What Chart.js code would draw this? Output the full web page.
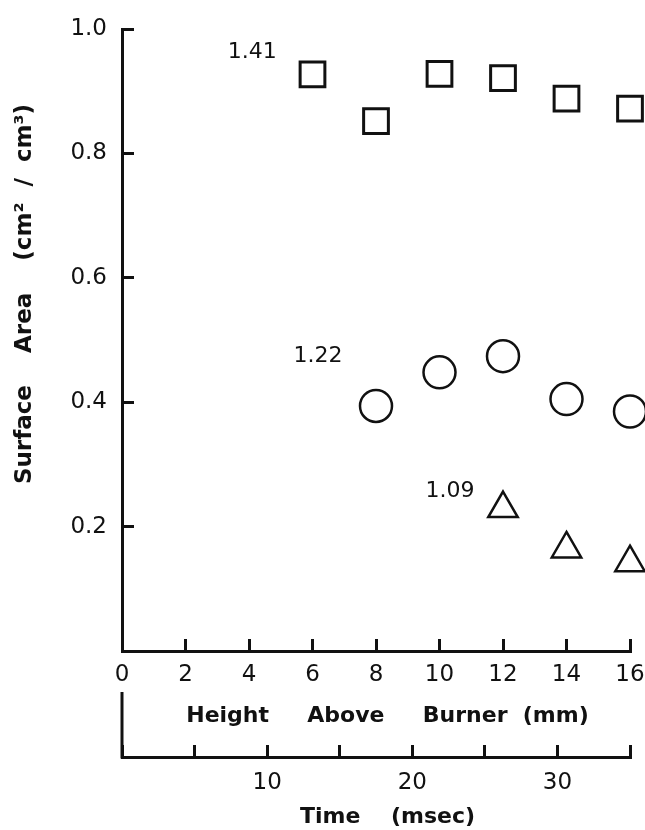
<!DOCTYPE html>
<html>
<head>
<meta charset="utf-8">
<script src="https://cdn.jsdelivr.net/npm/chart.js@4.4.0/dist/chart.umd.min.js"></script>
<style>
  html, body { margin: 0; padding: 0; background: #fff; }
  #wrap { width: 645px; height: 830px; }
</style>
</head>
<body>
<div id="wrap"><canvas id="chart" width="645" height="830"></canvas></div>
<script>
// --- data ---
const squareHeights = [6, 8, 10, 12, 14, 16];
const squareArea = [0.927, 0.852, 0.928, 0.921, 0.888, 0.872];

const circleHeights = [8, 10, 12, 14, 16];
const circleArea = [0.394, 0.448, 0.474, 0.405, 0.385];

const triangleHeights = [12, 14, 16];
const triangleArea = [0.229, 0.164, 0.142];

const seriesNames = ['1.41', '1.22', '1.09'];
const timeTickLabels = [10, 20, 30];

const FONT = "'DejaVu Sans', sans-serif";
const INK = '#111';

function toPoints(xs, ys) {
    return xs.map((x, i) => ({ x: x, y: ys[i] }));
}

// text labels next to each series + y title + bracket on the time axis
const extrasPlugin = {
    id: 'extras',
    afterDatasetsDraw(chart) {
        const ctx = chart.ctx;
        const x = chart.scales.x;
        const y = chart.scales.y;
        const x2 = chart.scales.x2;
        const anchors = [[4.1, 0.962], [6.17, 0.474], [10.33, 0.257]];

        ctx.save();
        ctx.fillStyle = INK;
        ctx.font = `22px ${FONT}`;
        ctx.textAlign = 'center';
        ctx.textBaseline = 'middle';
        seriesNames.forEach((name, i) => {
            ctx.fillText(name, x.getPixelForValue(anchors[i][0]), y.getPixelForValue(anchors[i][1]));
        });

        // y axis title
        ctx.translate(25, 294);
        ctx.rotate(-Math.PI / 2);
        ctx.font = `bold 23px ${FONT}`;
        ctx.fillText('Surface    Area    (cm\u00B2  /  cm\u00B3)', 0, 0);
        ctx.restore();

        // left bracket of the time axis
        const bx = x2.getPixelForValue(0);
        ctx.save();
        ctx.strokeStyle = INK;
        ctx.lineWidth = 3;
        ctx.beginPath();
        ctx.moveTo(bx, x2.top - 65);
        ctx.lineTo(bx, x2.top + 1.5);
        ctx.stroke();
        ctx.restore();
    }
};

const axisBorder = { display: true, color: INK, width: 3 };
const inwardTicks = {
    display: true,
    drawOnChartArea: false,
    drawTicks: true,
    tickLength: -12,
    tickWidth: 3,
    tickColor: INK
};

new Chart(document.getElementById('chart'), {
    type: 'scatter',
    data: {
        datasets: [
            {
                label: seriesNames[0],
                data: toPoints(squareHeights, squareArea),
                pointStyle: 'rect',
                pointRadius: 17.5,
                pointBorderWidth: 3,
                borderColor: INK,
                backgroundColor: 'rgba(0,0,0,0)',
                clip: false
            },
            {
                label: seriesNames[1],
                data: toPoints(circleHeights, circleArea),
                pointStyle: 'circle',
                pointRadius: 16,
                pointBorderWidth: 2.5,
                borderColor: INK,
                backgroundColor: 'rgba(0,0,0,0)',
                clip: false
            },
            {
                label: seriesNames[2],
                data: toPoints(triangleHeights, triangleArea),
                pointStyle: 'triangle',
                pointRadius: 17,
                pointBorderWidth: 2.5,
                borderColor: INK,
                backgroundColor: 'rgba(0,0,0,0)',
                clip: false
            }
        ]
    },
    options: {
        responsive: false,
        animation: false,
        layout: { autoPadding: false, padding: { left: 0, right: 15, top: 29, bottom: 0 } },
        plugins: {
            legend: { display: false },
            tooltip: { enabled: false }
        },
        scales: {
            x: {
                type: 'linear',
                position: 'bottom',
                min: 0,
                max: 16,
                border: axisBorder,
                grid: inwardTicks,
                ticks: {
                    stepSize: 2,
                    padding: 22,
                    color: INK,
                    maxRotation: 0,
                    font: { family: FONT, size: 23 }
                },
                title: {
                    display: true,
                    text: '   Height     Above     Burner  (mm)',
                    color: INK,
                    font: { family: FONT, size: 22, weight: 'bold' },
                    padding: { top: 0, bottom: 28 }
                },
                afterFit(s) { s.height = 106; s.paddingRight = 0; s.paddingLeft = 0; }
            },
            x2: {
                type: 'linear',
                position: 'bottom',
                min: 0,
                max: 35,
                border: axisBorder,
                grid: inwardTicks,
                ticks: {
                    stepSize: 5,
                    padding: 24,
                    color: INK,
                    maxRotation: 0,
                    autoSkip: false,
                    font: { family: FONT, size: 23 },
                    callback: v => timeTickLabels.includes(v) ? String(v) : ''
                },
                title: {
                    display: true,
                    text: '   Time    (msec)',
                    color: INK,
                    font: { family: FONT, size: 22, weight: 'bold' },
                    padding: { top: 0, bottom: 0 }
                },
                afterFit(s) { s.height = 73; s.paddingRight = 0; s.paddingLeft = 0; }
            },
            y: {
                type: 'linear',
                position: 'left',
                min: 0,
                max: 1.0,
                border: axisBorder,
                grid: inwardTicks,
                ticks: {
                    stepSize: 0.2,
                    padding: 27,
                    color: INK,
                    font: { family: FONT, size: 23 },
                    callback: v => v === 0 ? '' : v.toFixed(1)
                },
                afterFit(s) { s.width = 122; s.paddingTop = 0; s.paddingBottom = 0; }
            }
        }
    },
    plugins: [extrasPlugin]
});
</script>
</body>
</html>
